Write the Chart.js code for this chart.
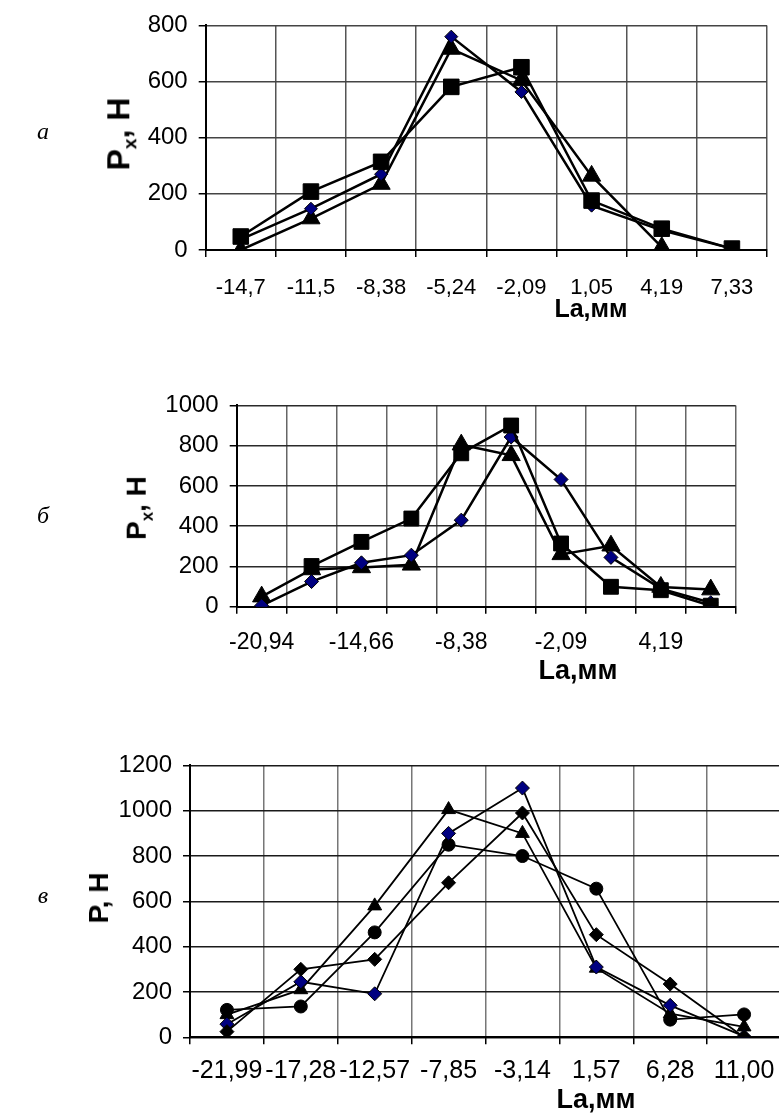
<!DOCTYPE html>
<html>
<head>
<meta charset="utf-8">
<script src="https://cdn.jsdelivr.net/npm/chart.js@4.4.1/dist/chart.umd.min.js"></script>
<style>
  body { margin: 0; width: 779px; height: 1113px; overflow: hidden; background: #fff; position: relative;
         font-family: 'Liberation Sans', Arial, sans-serif; }
  canvas { position: absolute; left: 0; }
  .lt { position: absolute; font: italic 24px 'Liberation Serif', 'Times New Roman', serif; transform: translate(-50%, -50%); }
  .yt { position: absolute; font-weight: bold; white-space: nowrap; transform: translate(-50%, -50%) rotate(-90deg); }
  .xt { position: absolute; font-weight: bold; white-space: nowrap; transform: translate(-50%, -50%); }
  .yt sub { font-size: 60%; }
</style>
</head>
<body>
<canvas id="chartA" width="779" height="330" style="top:0"></canvas>
<canvas id="chartB" width="779" height="320" style="top:380px"></canvas>
<canvas id="chartC" width="790" height="373" style="top:740px"></canvas>

<div class="lt" style="left:43px;top:131px">а</div>
<div class="lt" style="left:43px;top:515px">б</div>
<div class="lt" style="left:43px;top:895px">в</div>

<div class="yt" style="left:121px;top:134px;font-size:32px">P<sub>x</sub>, Н</div>
<div class="yt" style="left:139px;top:508px;font-size:28px">P<sub>x</sub>, Н</div>
<div class="yt" style="left:99px;top:898px;font-size:28px">P, Н</div>

<div class="xt" style="left:591px;top:308px;font-size:25px">La,мм</div>
<div class="xt" style="left:578px;top:670px;font-size:27px">La,мм</div>
<div class="xt" style="left:596px;top:1099px;font-size:27px">La,мм</div>

<script>
// --- chart a
var labelsA = ['-14,7', '-11,5', '-8,38', '-5,24', '-2,09', '1,05', '4,19', '7,33'];
var squareA = [48, 208, 314, 581, 651, 176, 76, 5];
var diamondA = [38, 147, 270, 760, 563, 158, 70, 5];
var triangleA = [0, 112, 235, 716, 604, 264, 10, null];
var ticksA = [0, 200, 400, 600, 800];

// --- chart b
var labelsB = ['-20,94', '-17,80', '-14,66', '-11,52', '-8,38', '-5,24', '-2,09', '1,05', '4,19', '7,33'];
var squareB = [null, 202, 322, 438, 762, 900, 314, 99, 82, 5];
var diamondB = [5, 125, 218, 256, 430, 843, 632, 245, 90, 20];
var triangleB = [50, 185, 195, 208, 805, 752, 260, 303, 98, 85];
var ticksB = [0, 200, 400, 600, 800, 1000];

// --- chart c
var labelsC = ['-21,99', '-17,28', '-12,57', '-7,85', '-3,14', '1,57', '6,28', '11,00'];
var diamondC = [25, 300, 344, 682, 990, 453, 235, 0];
var blueC = [58, 245, 192, 900, 1100, 310, 141, 4];
var triangleC = [100, 210, 580, 1005, 900, 305, 104, 46];
var circleC = [121, 136, 463, 850, 800, 656, 78, 101];
var ticksC = [0, 200, 400, 600, 800, 1000, 1200];

var NAVY = '#000080';
var FONT = "'Liberation Sans', Arial, sans-serif";

function series(data, style, radius, fill, lw) {
  return {
    data: data,
    borderColor: '#000',
    borderWidth: lw,
    pointStyle: style,
    pointRadius: radius,
    pointHoverRadius: radius,
    pointBackgroundColor: fill,
    pointBorderColor: '#000',
    pointBorderWidth: 1,
    tension: 0,
    fill: false,
    spanGaps: false
  };
}

// first dataset is drawn on top
function makeChart(id, labels, sets, yTicks, g) {
  new Chart(document.getElementById(id), {
    type: 'line',
    data: { labels: labels, datasets: sets },
    options: {
      responsive: false,
      animation: false,
      events: [],
      layout: { padding: { left: g.padLeft, right: g.padRight, top: g.padTop, bottom: 0 } },
      plugins: { legend: { display: false }, tooltip: { enabled: false } },
      scales: {
        x: {
          type: 'category',
          offset: true,
          grid: { offset: true, color: g.vColor, lineWidth: 1.5, tickLength: 7, tickColor: '#000' },
          border: { color: '#000', width: 2 },
          ticks: {
            autoSkip: false, maxRotation: 0, minRotation: 0,
            color: '#000', padding: g.xPad,
            font: { family: FONT, size: g.xFont },
            callback: function (v, i) { return (i % g.every === 0) ? labels[i] : ''; }
          },
          afterFit: function (s) { s.height = g.xHeight; }
        },
        y: {
          min: 0, max: yTicks[yTicks.length - 1],
          afterBuildTicks: function (s) { s.ticks = yTicks.map(function (v) { return { value: v }; }); },
          grid: { color: g.hColor, lineWidth: 1.5, tickLength: 7, tickColor: '#000' },
          border: { color: '#000', width: 2 },
          ticks: {
            color: '#000', padding: 11, font: { family: FONT, size: g.yFont },
            callback: function (v) { return String(v); }
          },
          afterFit: function (s) { s.width = g.yWidth; }
        }
      }
    }
  });
}

makeChart('chartA', labelsA, [
  series(squareA, 'rect', 11, '#000', 2.5),
  series(diamondA, 'rectRot', 6.5, NAVY, 2.5),
  series(triangleA, 'triangle', 10.5, '#000', 2.5)
], ticksA, {
  padLeft: 110, padRight: 10.3, padTop: 22.7, yWidth: 95.7, xHeight: 80,
  xPad: 18, xFont: 22, yFont: 24, every: 1, vColor: '#555', hColor: '#444'
});

makeChart('chartB', labelsB, [
  series(squareB, 'rect', 10.5, '#000', 2.5),
  series(diamondB, 'rectRot', 7, NAVY, 2.5),
  series(triangleB, 'triangle', 10.5, '#000', 2.5)
], ticksB, {
  padLeft: 110, padRight: 43.3, padTop: 25, yWidth: 126.7, xHeight: 93.3,
  xPad: 15, xFont: 23, yFont: 24, every: 2, vColor: '#666', hColor: '#2a2a2a'
});

makeChart('chartC', labelsC, [
  series(diamondC, 'rectRot', 7, '#000', 1.8),
  series(blueC, 'rectRot', 7, NAVY, 1.8),
  series(triangleC, 'triangle', 8, '#000', 1.8),
  series(circleC, 'circle', 6.5, '#000', 1.8)
], ticksC, {
  padLeft: 110, padRight: 9, padTop: 21.7, yWidth: 80, xHeight: 75.7,
  xPad: 12, xFont: 25, yFont: 24, every: 1, vColor: '#777', hColor: '#1a1a1a'
});
</script>
</body>
</html>
